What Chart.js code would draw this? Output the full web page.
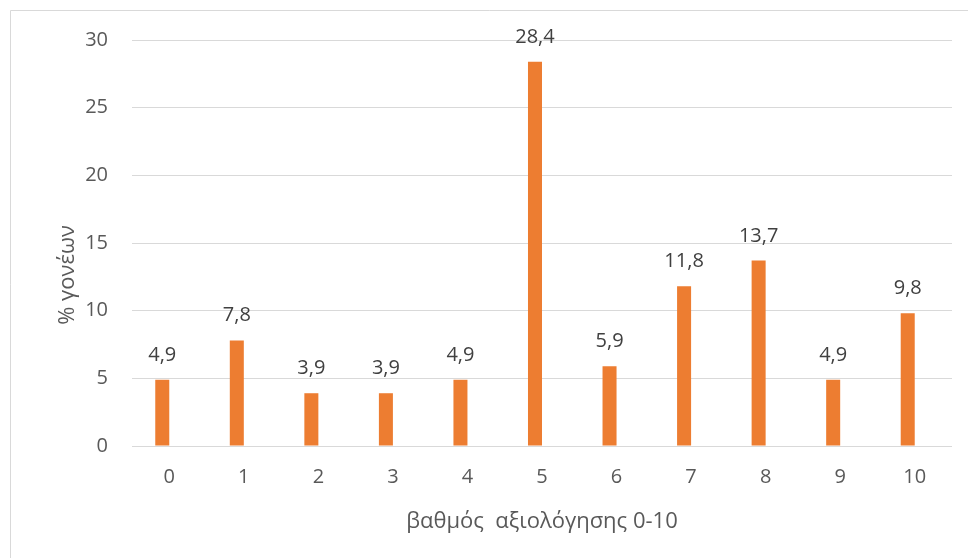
<!DOCTYPE html>
<html>
<head>
<meta charset="utf-8">
<script src="https://cdn.jsdelivr.net/npm/chart.js@4"></script>
<style>
  html, body { margin: 0; padding: 0; background: #fff; }
  #chart { display: block; }
</style>
</head>
<body>
<canvas id="chart" width="968" height="558"></canvas>
<script>
// grades on the x axis
const grades = ["0", "1", "2", "3", "4", "5", "6", "7", "8", "9", "10"];
// % of parents per grade
const parentShare = [4.9, 7.8, 3.9, 3.9, 4.9, 28.4, 5.9, 11.8, 13.7, 4.9, 9.8];
// the original sheet has a second, empty series (it pushes bars left of the tick)
const emptySeries = [null, null, null, null, null, null, null, null, null, null, null];
const yTicks = [0, 5, 10, 15, 20, 25, 30];

const xTitle = "βαθμός  αξιολόγησης 0-10";
const yTitle = "% γονέων";

const FONT = "'Open Sans', 'Noto Sans', sans-serif";
const barColor = "#ED7D31";
const textColor = "#595959";
const gridColor = "#D9D9D9";

// frame, axis titles and value labels
const decorations = {
  id: "decorations",
  beforeDraw(chart) {
    const ctx = chart.ctx;
    ctx.save();
    ctx.fillStyle = "#fff";
    ctx.fillRect(0, 0, chart.width, chart.height);
    ctx.strokeStyle = gridColor;
    ctx.lineWidth = 1;
    ctx.beginPath();
    ctx.moveTo(10.5, chart.height);
    ctx.lineTo(10.5, 10.5);
    ctx.lineTo(chart.width, 10.5);
    ctx.stroke();
    ctx.restore();
  },
  afterDatasetsDraw(chart) {
    const ctx = chart.ctx;
    const area = chart.chartArea;
    ctx.save();
    ctx.fillStyle = "#404040";
    ctx.font = "20px " + FONT;
    ctx.textAlign = "center";
    ctx.textBaseline = "alphabetic";
    chart.getDatasetMeta(0).data.forEach((bar, i) => {
      const label = parentShare[i].toFixed(1).replace(".", ",");
      ctx.fillText(label, bar.x, bar.y - 19);
    });

    ctx.fillStyle = textColor;
    ctx.font = "22px " + FONT;
    ctx.fillText(xTitle, (area.left + area.right) / 2, 528);

    ctx.translate(74, 275);
    ctx.rotate(-Math.PI / 2);
    ctx.fillText(yTitle, 0, 0);
    ctx.restore();
  },
};

new Chart(document.getElementById("chart"), {
  type: "bar",
  data: {
    labels: grades,
    datasets: [
      {
        label: "% γονέων",
        data: parentShare,
        backgroundColor: barColor,
        barPercentage: 1,
        categoryPercentage: 0.376,
      },
      {
        label: "",
        data: emptySeries,
        backgroundColor: barColor,
        barPercentage: 1,
        categoryPercentage: 0.376,
      },
    ],
  },
  options: {
    responsive: false,
    animation: false,
    layout: { padding: { top: 40, right: 16, left: 0, bottom: 0 } },
    plugins: {
      legend: { display: false },
      tooltip: { enabled: false },
    },
    scales: {
      x: {
        grid: { display: false, drawTicks: false },
        border: { display: false },
        ticks: {
          color: textColor,
          font: { family: FONT, size: 20 },
          padding: 19,
        },
        afterFit: (scale) => { scale.height = 112; },
      },
      y: {
        min: 0,
        max: 30,
        afterBuildTicks: (scale) => {
          scale.ticks = yTicks.map((v) => ({ value: v }));
        },
        grid: { color: gridColor, lineWidth: 1, drawTicks: false },
        border: { display: false },
        ticks: {
          color: textColor,
          font: { family: FONT, size: 20 },
          padding: 24,
        },
        afterFit: (scale) => { scale.width = 132; },
      },
    },
  },
  plugins: [decorations],
});
</script>
</body>
</html>
